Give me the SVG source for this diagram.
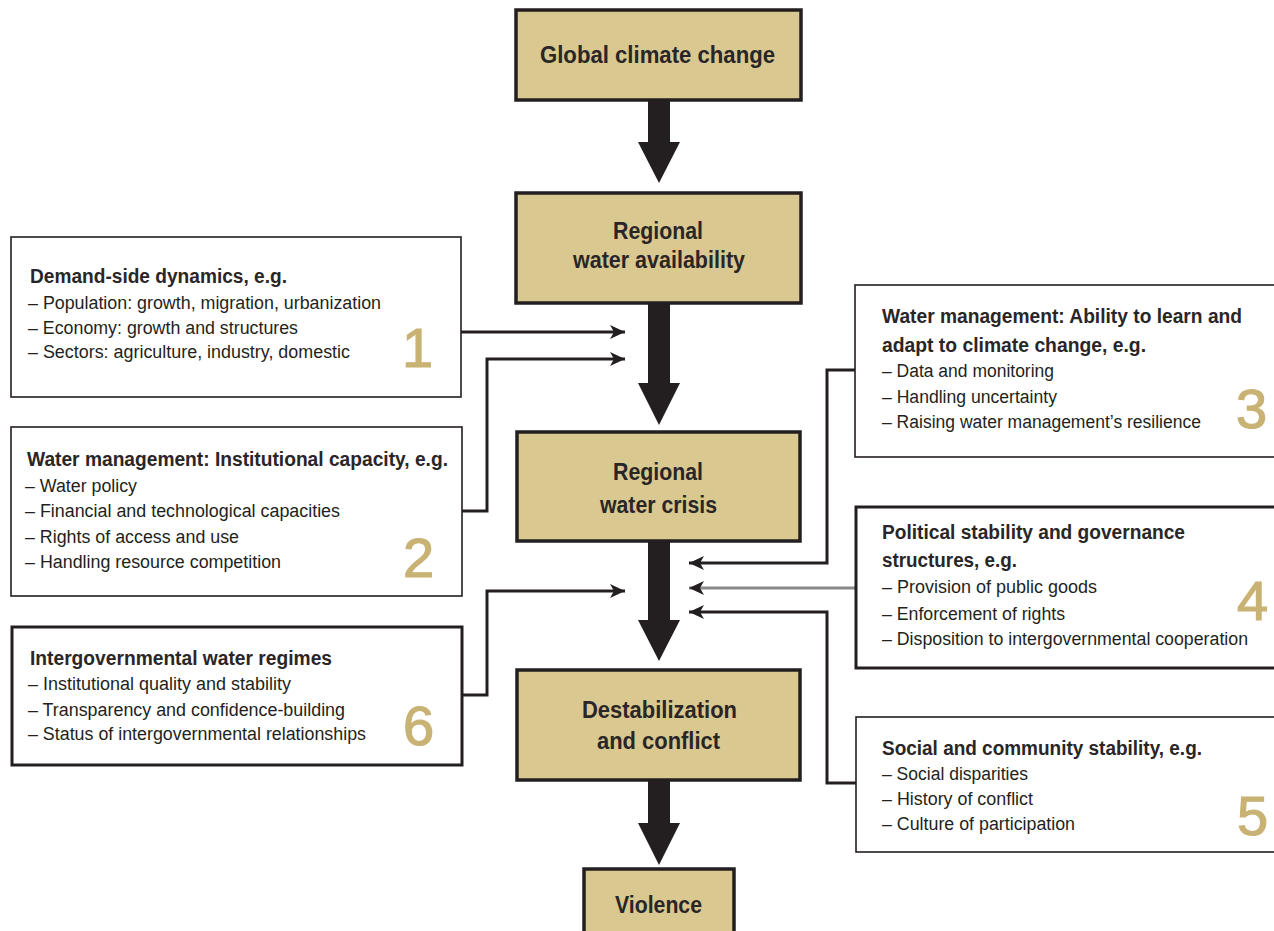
<svg xmlns="http://www.w3.org/2000/svg" width="1274" height="931" viewBox="0 0 1274 931">
<style>
.main{fill:#d9c88f;stroke:#231f20;stroke-width:3.5}
.side{fill:#fff;stroke:#231f20;stroke-width:1.6}
.sideT{fill:#fff;stroke:#231f20;stroke-width:3}
.mt{font-family:"Liberation Sans",Arial,sans-serif;font-size:23px;font-weight:bold;fill:#2a2627;text-anchor:start}
.tt{font-family:"Liberation Sans",Arial,sans-serif;font-size:20px;font-weight:bold;fill:#2a2627}
.it{font-family:"Liberation Sans",Arial,sans-serif;font-size:18px;fill:#231f20}
.num{font-family:"Liberation Sans",Arial,sans-serif;font-size:56px;fill:#c8b274;stroke:#c8b274;stroke-width:1.2}
.big{fill:#231f20}
.con{fill:none;stroke:#231f20;stroke-width:3}
.gray{fill:none;stroke:#8a8a8a;stroke-width:3}
</style>
<defs>
<marker id="ah" markerUnits="userSpaceOnUse" markerWidth="16" markerHeight="14" refX="15" refY="7" orient="auto">
<path d="M0,0 L15,7 L0,14 L4,7 z" fill="#231f20"/>
</marker>
</defs>
<rect width="1274" height="931" fill="#fff"/>

<g id="connectors">
<polygon class="big" points="648,100 670,100 670,142 680,142 659,183 638,142 648,142"/>
<polygon class="big" points="648,303 670,303 670,383 680,383 659,425 638,383 648,383"/>
<polygon class="big" points="648,541 670,541 670,620 680,620 659,661 638,620 648,620"/>
<polygon class="big" points="648,780 670,780 670,823 680,823 659,865 638,823 648,823"/>
<path class="con" d="M461,332 H625" marker-end="url(#ah)"/>
<path class="con" d="M462,511 H487 V359 H625" marker-end="url(#ah)"/>
<path class="con" d="M462,695 H487 V591 H625" marker-end="url(#ah)"/>
<path class="con" d="M855,370 H827 V563 H689" marker-end="url(#ah)"/>
<path class="gray" d="M856,588 H689" marker-end="url(#ah)"/>
<path class="con" d="M856,783 H827 V612 H689" marker-end="url(#ah)"/>
</g>

<g id="global-climate-change">
<rect class="main" x="516" y="10" width="285" height="90"/>
<text class="mt" x="540" y="63" textLength="235" lengthAdjust="spacingAndGlyphs">Global climate change</text>
</g>
<g id="regional-water-availability">
<rect class="main" x="516" y="193" width="285" height="110"/>
<text class="mt" x="613" y="239" textLength="90" lengthAdjust="spacingAndGlyphs">Regional</text>
<text class="mt" x="573" y="268" textLength="172" lengthAdjust="spacingAndGlyphs">water availability</text>
</g>
<g id="regional-water-crisis">
<rect class="main" x="517" y="432" width="283" height="109"/>
<text class="mt" x="613" y="480" textLength="90" lengthAdjust="spacingAndGlyphs">Regional</text>
<text class="mt" x="600" y="513" textLength="117" lengthAdjust="spacingAndGlyphs">water crisis</text>
</g>
<g id="destabilization-and-conflict">
<rect class="main" x="517" y="670" width="283" height="110"/>
<text class="mt" x="582" y="718" textLength="155" lengthAdjust="spacingAndGlyphs">Destabilization</text>
<text class="mt" x="597" y="749" textLength="123" lengthAdjust="spacingAndGlyphs">and conflict</text>
</g>
<g id="violence">
<rect class="main" x="584" y="869" width="150" height="72"/>
<text class="mt" x="615" y="913" textLength="87" lengthAdjust="spacingAndGlyphs">Violence</text>
</g>

<g id="box1">
<rect class="side" x="11" y="237" width="450" height="160"/>
<text class="tt" x="30" y="283" textLength="257" lengthAdjust="spacingAndGlyphs">Demand-side dynamics, e.g.</text>
<text class="it" x="28" y="309" textLength="353" lengthAdjust="spacingAndGlyphs">– Population: growth, migration, urbanization</text>
<text class="it" x="28" y="334" textLength="270" lengthAdjust="spacingAndGlyphs">– Economy: growth and structures</text>
<text class="it" x="28" y="358" textLength="322" lengthAdjust="spacingAndGlyphs">– Sectors: agriculture, industry, domestic</text>
<text class="num" x="402" y="367">1</text>
</g>
<g id="box2">
<rect class="side" x="11" y="427" width="451" height="169"/>
<text class="tt" x="27" y="466" textLength="421" lengthAdjust="spacingAndGlyphs">Water management: Institutional capacity, e.g.</text>
<text class="it" x="25" y="492" textLength="112" lengthAdjust="spacingAndGlyphs">– Water policy</text>
<text class="it" x="25" y="517" textLength="315" lengthAdjust="spacingAndGlyphs">– Financial and technological capacities</text>
<text class="it" x="25" y="543" textLength="214" lengthAdjust="spacingAndGlyphs">– Rights of access and use</text>
<text class="it" x="25" y="568" textLength="256" lengthAdjust="spacingAndGlyphs">– Handling resource competition</text>
<text class="num" x="403" y="577">2</text>
</g>
<g id="box6">
<rect class="sideT" x="12" y="627" width="450" height="138"/>
<text class="tt" x="30" y="665" textLength="302" lengthAdjust="spacingAndGlyphs">Intergovernmental water regimes</text>
<text class="it" x="28" y="690" textLength="263" lengthAdjust="spacingAndGlyphs">– Institutional quality and stability</text>
<text class="it" x="28" y="716" textLength="317" lengthAdjust="spacingAndGlyphs">– Transparency and confidence-building</text>
<text class="it" x="28" y="740" textLength="338" lengthAdjust="spacingAndGlyphs">– Status of intergovernmental relationships</text>
<text class="num" x="403" y="745">6</text>
</g>
<g id="box3">
<rect class="side" x="855" y="285" width="430" height="172"/>
<text class="tt" x="882" y="323" textLength="360" lengthAdjust="spacingAndGlyphs">Water management: Ability to learn and</text>
<text class="tt" x="882" y="352" textLength="264" lengthAdjust="spacingAndGlyphs">adapt to climate change, e.g.</text>
<text class="it" x="882" y="377" textLength="172" lengthAdjust="spacingAndGlyphs">– Data and monitoring</text>
<text class="it" x="882" y="403" textLength="175" lengthAdjust="spacingAndGlyphs">– Handling uncertainty</text>
<text class="it" x="882" y="428" textLength="319" lengthAdjust="spacingAndGlyphs">– Raising water management’s resilience</text>
<text class="num" x="1236" y="428">3</text>
</g>
<g id="box4">
<rect class="sideT" x="856" y="507" width="430" height="161"/>
<text class="tt" x="882" y="539" textLength="303" lengthAdjust="spacingAndGlyphs">Political stability and governance</text>
<text class="tt" x="882" y="567" textLength="135" lengthAdjust="spacingAndGlyphs">structures, e.g.</text>
<text class="it" x="882" y="593" textLength="215" lengthAdjust="spacingAndGlyphs">– Provision of public goods</text>
<text class="it" x="882" y="620" textLength="183" lengthAdjust="spacingAndGlyphs">– Enforcement of rights</text>
<text class="it" x="882" y="645" textLength="366" lengthAdjust="spacingAndGlyphs">– Disposition to intergovernmental cooperation</text>
<text class="num" x="1237" y="620">4</text>
</g>
<g id="box5">
<rect class="side" x="856" y="717" width="430" height="135"/>
<text class="tt" x="882" y="755" textLength="320" lengthAdjust="spacingAndGlyphs">Social and community stability, e.g.</text>
<text class="it" x="882" y="780" textLength="146" lengthAdjust="spacingAndGlyphs">– Social disparities</text>
<text class="it" x="882" y="805" textLength="151" lengthAdjust="spacingAndGlyphs">– History of conflict</text>
<text class="it" x="882" y="830" textLength="193" lengthAdjust="spacingAndGlyphs">– Culture of participation</text>
<text class="num" x="1237" y="835">5</text>
</g>
</svg>
